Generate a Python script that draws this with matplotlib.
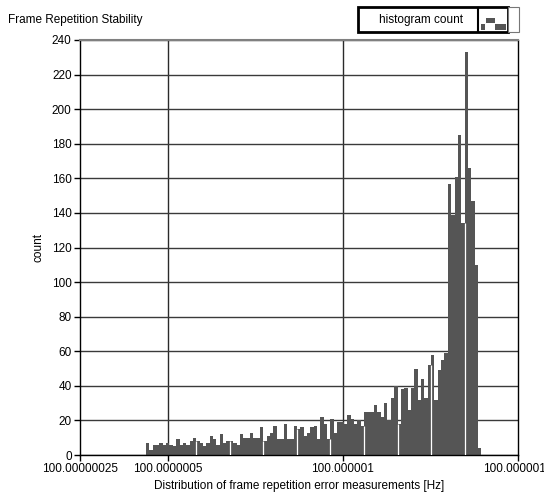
import numpy as np
import matplotlib
matplotlib.use("Agg")
import matplotlib.pyplot as plt
from matplotlib.patches import Rectangle
from matplotlib.transforms import ScaledTranslation

# histogram of frame repetition error, x in micro-Hz above 100 Hz
counts = [7, 3, 6, 6, 7, 6, 7, 6, 5, 9, 6, 7, 6, 8, 10, 8, 7, 5, 7, 11,
          9, 6, 12, 7, 8, 8, 7, 6, 12, 10, 10, 13, 10, 10, 16, 8, 11, 13, 17, 9,
          9, 18, 9, 9, 17, 15, 16, 11, 13, 16, 17, 9, 22, 18, 9, 21, 13, 19, 19, 18,
          23, 21, 18, 20, 17, 25, 25, 25, 29, 25, 22, 30, 20, 33, 40, 18, 38, 39, 26, 39,
          50, 32, 44, 33, 52, 58, 32, 49, 55, 59, 157, 139, 161, 185, 134, 233, 166, 147, 110, 4]
bin_start = 0.4384
bin_width = 0.00957

x_ticks = [0.25, 0.5, 1.0, 1.5]
x_tick_labels = ["100.00000025", "100.0000005", "100.000001", "100.000001"]
y_ticks = list(range(0, 241, 20))

W, H = 544, 499
plt.rcParams['font.family'] = ['Liberation Sans', 'DejaVu Sans']
plt.rcParams['font.size'] = 8.5

fig = plt.figure(figsize=(W / 100, H / 100), dpi=100)
ax = fig.add_axes([80 / W, 44 / H, 438 / W, 415 / H])

edges = bin_start + bin_width * np.arange(len(counts) + 1)
ax.stairs(counts, edges, fill=True, color='#555555', zorder=2)

# thin light seams every ten bins
heights = np.array(counts)
for k in range(15, len(counts), 10):
    ax.vlines(edges[k], 0, min(heights[k - 1], heights[k]), color='white', lw=0.9, zorder=3)

ax.set_xlim(0.25, 1.5)
ax.set_ylim(0, 240)
ax.set_xticks(x_ticks)
ax.set_xticklabels(x_tick_labels)
ax.set_yticks(y_ticks)

ax.grid(axis='y', color='#3a3a3a', lw=1, zorder=1)
for xv in x_ticks[1:3]:
    ax.axvline(xv, color='#2a2a2a', lw=1, zorder=1)

ax.tick_params(direction='out', length=4, width=1, colors='black', pad=2)
for s in ['left', 'bottom', 'right']:
    ax.spines[s].set_color('black')
    ax.spines[s].set_linewidth(1)
ax.spines['top'].set_color('#808080')
ax.spines['top'].set_linewidth(1.5)

# last tick label is nudged left to stay inside the panel
last = ax.get_xticklabels()[-1]
last.set_transform(last.get_transform() + ScaledTranslation(-4 / 100, 0, fig.dpi_scale_trans))

ax.set_xlabel("Distribution of frame repetition error measurements [Hz]", labelpad=3)
ax.set_ylabel("count", labelpad=5)

fig.text(8 / W, 1 - 20 / H, "Frame Repetition Stability", ha='left', va='center')


def fx(px):
    return px / W


def fy(py):
    return 1 - py / H


# legend box with label and histogram glyph
fig.patches.append(Rectangle((fx(358), fy(32)), fx(150), 25 / H, transform=fig.transFigure,
                             facecolor='white', edgecolor='black', lw=2, zorder=5))
fig.patches.append(Rectangle((fx(508), fy(32)), fx(11), 25 / H, transform=fig.transFigure,
                             facecolor='white', edgecolor='#777777', lw=0.8, zorder=5))
fig.lines.append(plt.Line2D([fx(478), fx(478)], [fy(8), fy(31)], transform=fig.transFigure,
                            color='black', lw=1.5, zorder=6))
for (x0, y0, w, h) in [(481, 24, 4, 6), (486, 18, 9, 5), (495, 24, 11, 6)]:
    fig.patches.append(Rectangle((fx(x0), fy(y0 + h)), fx(w), h / H, transform=fig.transFigure,
                                 facecolor='#555555', edgecolor='none', zorder=6))
fig.text(fx(421), fy(19.5), "histogram count", ha='center', va='center', zorder=7)

fig.savefig("out.png", dpi=100)
